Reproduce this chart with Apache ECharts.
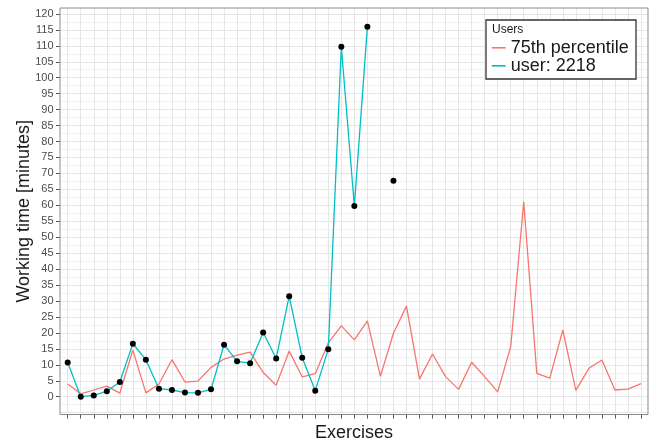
<!DOCTYPE html>
<html>
<head>
<meta charset="utf-8">
<script src="https://cdn.jsdelivr.net/npm/echarts@6/dist/echarts.min.js"></script>
<style>
html,body{margin:0;padding:0;background:#ffffff;}
#chart{width:651px;height:442px;}
</style>
</head>
<body>
<div id="chart"></div>
<script>
// ---- data ----
const exercises = ['1','2','3','4','5','6','7','8','9','10','11','12','13','14','15','16','17','18','19','20','21','22','23','24','25','26','27','28','29','30','31','32','33','34','35','36','37','38','39','40','41','42','43','44','45'];
const seriesNames = ['75th percentile', 'user: 2218'];
const percentile75 = [4.0, 0.9, 2.1, 3.3, 1.1, 14.6, 1.2, 4.0, 11.6, 4.6, 4.9, 9.2, 11.8, 13.0, 14.0, 7.6, 3.6, 14.3, 6.2, 7.2, 16.9, 22.2, 17.8, 23.8, 6.4, 19.9, 28.4, 5.5, 13.4, 6.3, 2.3, 10.8, 6.3, 1.5, 15.7, 61.1, 7.3, 5.8, 20.9, 2.0, 8.9, 11.5, 2.1, 2.4, 4.1];
const user2218 = [10.7, 0, 0.4, 1.7, 4.6, 16.6, 11.6, 2.5, 2.1, 1.3, 1.2, 2.3, 16.3, 11.1, 10.5, 20.1, 12.0, 31.5, 12.2, 1.9, 14.9, 109.7, 59.8, 116.0, null, 67.7, null, null, null, null, null, null, null, null, null, null, null, null, null, null, null, null, null, null, null];
const yTickMin = 0, yTickMax = 120, yTickStep = 5;
const legendTitle = 'Users';
const xTitle = 'Exercises';
const yTitle = 'Working time [minutes]';

// ---- layout ----
const FONT = '"Liberation Sans", Arial, Helvetica, sans-serif';
const H = 442;
const PX0 = 396.7;     // pixel of value 0
const PPU = 3.19;      // pixels per minute
const FRAME_TOP = 8, FRAME_BOTTOM_PX = 414.5;
const FRAME_LEFT = 60, FRAME_RIGHT = 3;
const Y_MAX = (PX0 - FRAME_TOP) / PPU;
const Y_MIN = -(FRAME_BOTTOM_PX - PX0) / PPU;
const px = v => PX0 - v * PPU;

const off = {show:false};
const gridBase = {outerBoundsMode: 'none', containLabel: false};
const chart = echarts.init(document.getElementById('chart'), null, {renderer:'canvas'});
chart.setOption({
  animation: false,
  backgroundColor: '#ffffff',
  textStyle: {fontFamily: FONT},
  grid: [
    Object.assign({left: FRAME_LEFT, right: FRAME_RIGHT, top: FRAME_TOP, bottom: H - FRAME_BOTTOM_PX, show: true, borderColor: '#8a8a8a', borderWidth: 1, backgroundColor: 'transparent', z: 1}, gridBase),
    Object.assign({left: FRAME_LEFT, right: FRAME_RIGHT, top: px(yTickMax), bottom: H - px(-yTickStep)}, gridBase),
    Object.assign({left: FRAME_LEFT, right: FRAME_RIGHT, top: px(yTickMax), bottom: H - px(yTickMin)}, gridBase),
    Object.assign({left: 67.7, right: 10, top: FRAME_TOP, bottom: H - FRAME_BOTTOM_PX}, gridBase)
  ],
  xAxis: [
    {gridIndex: 0, type: 'value', min: 0, max: 1, name: xTitle, nameLocation: 'middle', nameGap: 10,
     nameTextStyle: {fontSize: 18, color: '#1a1a1a', fontFamily: FONT},
     axisLine: {show: false, onZero: false}, axisTick: off, axisLabel: off, splitLine: off},
    {gridIndex: 1, type: 'value', min: 0, max: 1, show: false},
    {gridIndex: 2, type: 'value', min: 0, max: 1, show: false},
    {gridIndex: 3, type: 'category', data: exercises, boundaryGap: false, position: 'bottom',
     axisLine: {show: false, onZero: false}, axisLabel: off,
     axisTick: {show: true, interval: 0, length: 4, lineStyle: {color: '#555555', width: 1}},
     splitLine: {show: true, interval: 0, lineStyle: {color: '#E6E6E6', width: 1}}}
  ],
  yAxis: [
    {gridIndex: 0, type: 'value', min: 0, max: 1, name: yTitle, nameLocation: 'middle', nameRotate: 90, nameGap: 27,
     nameTextStyle: {fontSize: 18, color: '#1a1a1a', fontFamily: FONT},
     axisLine: {show: false, onZero: false}, axisTick: off, axisLabel: off, splitLine: off},
    {gridIndex: 1, type: 'value', min: -yTickStep, max: yTickMax, interval: yTickStep,
     axisLine: {show: false, onZero: false}, axisTick: off, axisLabel: off,
     splitLine: {show: true, lineStyle: {color: '#E6E6E6', width: 1}},
     minorTick: {show: false, splitNumber: 2},
     minorSplitLine: {show: true, lineStyle: {color: '#F2F2F2', width: 1}}},
    {gridIndex: 2, type: 'value', min: yTickMin, max: yTickMax, interval: yTickStep,
     axisLine: {show: false, onZero: false}, splitLine: off,
     axisTick: {show: true, length: 4, lineStyle: {color: '#555555', width: 1}},
     axisLabel: {show: true, fontSize: 11, color: '#4D4D4D', margin: 6.5, fontFamily: FONT}},
    {gridIndex: 3, type: 'value', min: Y_MIN, max: Y_MAX, show: false, axisLine: {onZero: false}}
  ],
  legend: {
    data: seriesNames, orient: 'vertical', left: 491.7, top: 38.8, padding: 0,
    itemWidth: 14, itemHeight: 1.6, icon: 'rect', itemGap: 0,
    textStyle: {fontSize: 18, lineHeight: 17, color: '#1a1a1a', fontFamily: FONT},
    z: 6
  },
  graphic: [
    {type: 'rect', z: 5, shape: {x: 486, y: 20, width: 150, height: 59},
     style: {fill: '#ffffff', stroke: '#333333', lineWidth: 1.3}},
    {type: 'text', z: 7, style: {text: legendTitle, x: 492, y: 30, fill: '#1a1a1a', fontSize: 12, fontFamily: FONT, align: 'left', verticalAlign: 'middle'}}
  ],
  series: [
    {name: seriesNames[0], type: 'line', xAxisIndex: 3, yAxisIndex: 3, data: percentile75,
     symbol: 'none', color: '#F8766D', lineStyle: {width: 1.3, color: '#F8766D'}, z: 2},
    {name: seriesNames[1], type: 'line', xAxisIndex: 3, yAxisIndex: 3, data: user2218,
     symbol: 'none', connectNulls: false, color: '#00BFC4', lineStyle: {width: 1.3, color: '#00BFC4'}, z: 3},
    {name: 'user points', type: 'scatter', xAxisIndex: 3, yAxisIndex: 3, data: user2218,
     symbol: 'circle', symbolSize: 6, itemStyle: {color: '#000000', opacity: 1}, z: 4}
  ]
});
</script>
</body>
</html>
